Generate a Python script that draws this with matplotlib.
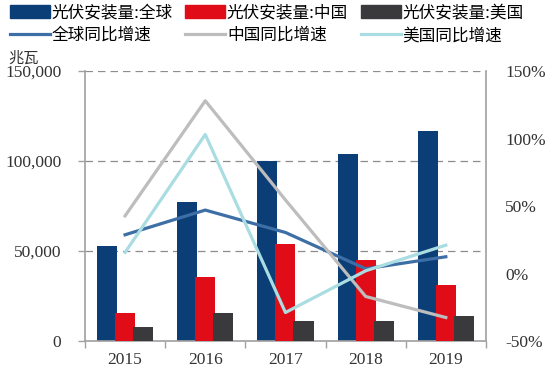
import matplotlib
matplotlib.use("Agg")
import matplotlib.pyplot as plt
from matplotlib.ticker import FixedLocator
from matplotlib.lines import Line2D
from matplotlib.patches import Patch
import numpy as np

SERIF = 'Liberation Serif'
CJK = 'Noto Sans CJK SC'
plt.rcParams['font.family'] = SERIF

years = ['2015', '2016', '2017', '2018', '2019']
install_global = [52800, 77400, 100000, 103700, 116700]
install_china = [15700, 35400, 53900, 45000, 30900]
install_us = [8000, 15700, 11300, 11300, 13900]
growth_global = [28.7, 47.0, 30.4, 3.5, 12.4]
growth_china = [42.7, 128.0, 54.5, -17.0, -32.6]
growth_us = [15.6, 103.0, -28.9, 2.0, 21.0]
left_ticks = [0, 50000, 100000, 150000]
left_labels = ['0', '50,000', '100,000', '150,000']
right_ticks = [-50, 0, 50, 100, 150]
right_labels = ['-50%', '0%', '50%', '100%', '150%']

bar_labels = ['光伏安装量:全球', '光伏安装量:中国', '光伏安装量:美国']
line_labels = ['全球同比增速', '中国同比增速', '美国同比增速']
c_glob, c_cn, c_us = '#0B3D76', '#E00C18', '#3A3A3C'
l_glob, l_cn, l_us = '#3D6FA6', '#BDBDBD', '#A9DDE2'
tcol = '#333333'

fig = plt.figure(figsize=(5.5, 3.81), dpi=100)
ax = fig.add_axes([0.1545, 0.105, 0.729, 0.7085])
x = np.arange(len(years))
w = 0.25
off = 0.225
ax.bar(x - off, install_global, w, color=c_glob, zorder=2)
ax.bar(x, install_china, w, color=c_cn, zorder=3)
ax.bar(x + off, install_us, w, color=c_us, zorder=4)
ax.set_xlim(-0.5, 4.5)
ax.set_ylim(0, 150000)
ax.set_yticks(left_ticks, labels=left_labels, fontfamily=SERIF, fontsize=12.5, color=tcol)
for yv in left_ticks[1:]:
    ax.axhline(yv, color='#8C8C8C', lw=0.9, ls=(0, (6, 4)), zorder=1)
ax.set_xticks(x, labels=years, fontfamily=SERIF, fontsize=12.5, color=tcol)
ax.xaxis.set_minor_locator(FixedLocator(np.arange(-0.5, 5.0, 1.0)))
ax.tick_params(axis='x', which='major', length=0, pad=8)
ax.tick_params(axis='x', which='minor', length=5, color='#A0A0A0', width=1)
ax.tick_params(axis='y', length=5, color='#A0A0A0', width=1, pad=12)
for s in ['top', 'right']:
    ax.spines[s].set_visible(False)
for s in ['left', 'bottom']:
    ax.spines[s].set_color('#A0A0A0')
    ax.spines[s].set_linewidth(1.2)

ax2 = ax.twinx()
ax2.plot(x, growth_global, color=l_glob, lw=2.3, zorder=5)
ax2.plot(x, growth_china, color=l_cn, lw=2.3, zorder=5)
ax2.plot(x, growth_us, color=l_us, lw=2.3, zorder=5)
ax2.set_ylim(-50, 150)
ax2.set_yticks(right_ticks, labels=right_labels, fontfamily=SERIF, fontsize=12.5, color=tcol)
ax2.tick_params(axis='y', length=0, pad=14)
for s in ['top', 'left', 'bottom']:
    ax2.spines[s].set_visible(False)
ax2.spines['right'].set_color('#A0A0A0')
ax2.spines['right'].set_linewidth(1.2)

bar_handles = [Patch(color=c_glob), Patch(color=c_cn), Patch(color=c_us)]
line_handles = [Line2D([], [], color=l_glob, lw=2.3), Line2D([], [], color=l_cn, lw=2.3),
                Line2D([], [], color=l_us, lw=2.3)]
handles, labels = [], []
for i in range(3):
    handles += [bar_handles[i], line_handles[i]]
    labels += [bar_labels[i], line_labels[i]]
fig.legend(handles, labels, ncol=3, loc='upper left', bbox_to_anchor=(0.0, 1.015),
           frameon=False, prop={'family': CJK, 'size': 12}, handlelength=2.4, handleheight=0.9,
           handletextpad=0.1, columnspacing=0.75, labelspacing=0.35, borderaxespad=0.2)
fig.text(0.015, 0.825, '兆瓦', fontsize=11, color=tcol, va='bottom', family=CJK)

fig.canvas.draw()
for lbl in ax.get_xticklabels() + ax.get_yticklabels() + ax2.get_yticklabels():
    lbl.set_fontfamily(SERIF)
fig.savefig('out.png', dpi=100)
